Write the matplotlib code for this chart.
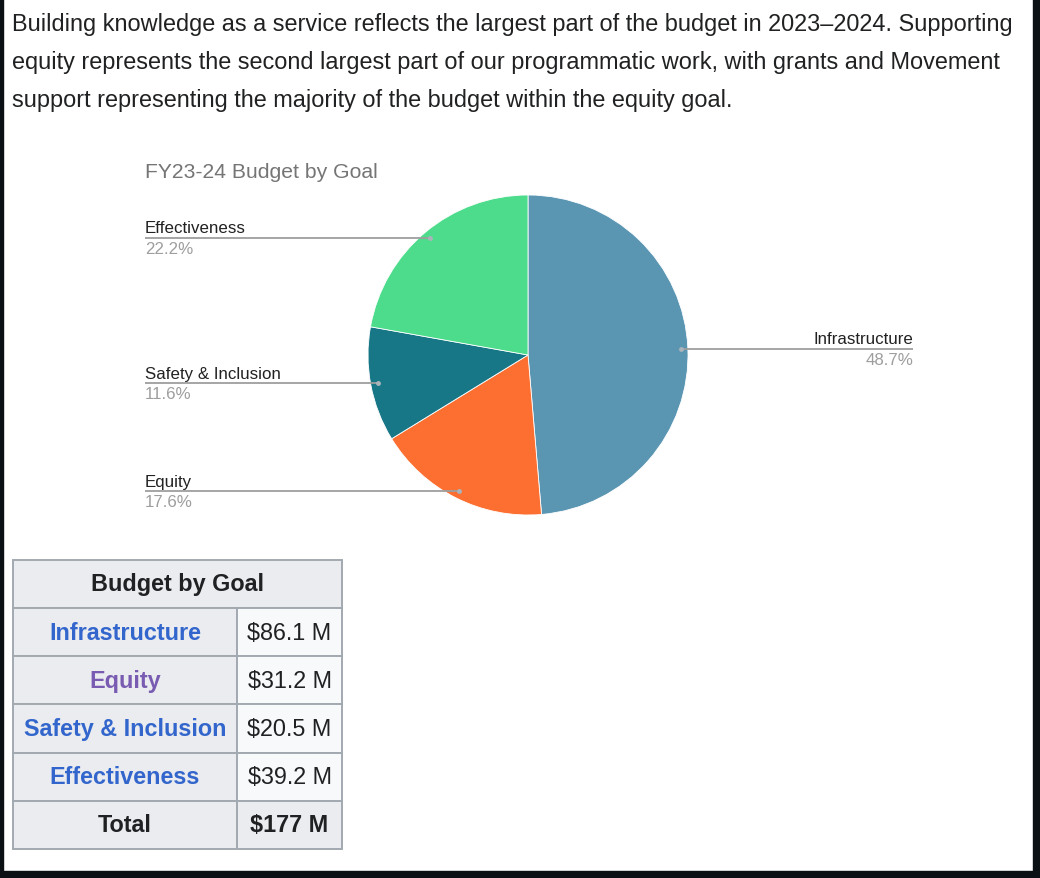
import matplotlib
matplotlib.use("Agg")
import matplotlib.pyplot as plt
from matplotlib.patches import Rectangle
import numpy as np

W, H = 1040, 879

# ---- data ----
paragraph = ["Building knowledge as a service reflects the largest part of the budget in 2023\u20132024. Supporting",
             "equity represents the second largest part of our programmatic work, with grants and Movement",
             "support representing the majority of the budget within the equity goal."]
chart_title = "FY23-24 Budget by Goal"
goals = ["Infrastructure", "Equity", "Safety & Inclusion", "Effectiveness"]
shares = [48.7, 17.6, 11.6, 22.2]
share_labels = ["48.7%", "17.6%", "11.6%", "22.2%"]
colors = ["#5a95b2", "#fd6f30", "#177786", "#4cdc8c"]
table_title = "Budget by Goal"
table_goals = ["Infrastructure", "Equity", "Safety & Inclusion", "Effectiveness"]
table_values = ["$86.1 M", "$31.2 M", "$20.5 M", "$39.2 M"]
total_label = "Total"
total_value = "$177 M"
goal_link_colors = ["#3366cc", "#795cb2", "#3366cc", "#3366cc"]

fig = plt.figure(figsize=(W / 100, H / 100), dpi=100)
fig.patch.set_facecolor("white")

# pie chart
cx, cy, R = 528, 356, 160
pax = fig.add_axes([(cx - R) / W, (H - cy - R) / H, 2 * R / W, 2 * R / H])
wedges, _ = pax.pie(shares, colors=colors, startangle=90, counterclock=False,
                    wedgeprops=dict(edgecolor="white", linewidth=0.6))
pax.set_xlim(-1, 1)
pax.set_ylim(-1, 1)
pax.set_aspect("equal")
pax.axis("off")

# overlay axes in pixel coordinates (on top)
ov = fig.add_axes([0, 0, 1, 1])
ov.set_xlim(0, W)
ov.set_ylim(H, 0)
ov.axis("off")
ov.patch.set_alpha(0)
ov.set_zorder(5)

# frame borders
ov.add_patch(Rectangle((0, 0), 2.5, H, color="#0b1014", zorder=10))
ov.add_patch(Rectangle((1033, 0), 7, H, color="#0b1014", zorder=10))
ov.add_patch(Rectangle((0, 872), W, 7, color="#0b1014", zorder=10))

# paragraph
for i, line in enumerate(paragraph):
    ov.text(12, 25 + i * 38, line, fontsize=16.9, family="Liberation Sans",
            color="#202122", va="center", ha="left")

ov.text(145, 172, chart_title, fontsize=15.2, family="Liberation Sans", color="#757575",
        va="center", ha="left")

fig.canvas.draw()
to_px = ov.transData.inverted()
lfs = 12.2
for w, name, lab in zip(wedges, goals, share_labels):
    mid = np.deg2rad((w.theta1 + w.theta2) / 2)
    px, py = to_px.transform(pax.transData.transform((0.955 * np.cos(mid), 0.955 * np.sin(mid))))
    if np.cos(mid) >= 0:
        x_end, ha = 913, "right"
    else:
        x_end, ha = 145, "left"
    ov.plot([min(px, x_end), max(px, x_end)], [py, py], color="#9e9e9e", lw=1.3,
            solid_capstyle="butt", zorder=5)
    ov.text(x_end, py - 2.5, name, fontsize=lfs, family="Liberation Sans", color="#222222",
            ha=ha, va="bottom")
    ov.text(x_end, py + 3, lab, fontsize=lfs, family="Liberation Sans", color="#9e9e9e",
            ha=ha, va="top")
    ov.plot([px], [py], "o", color="#aab4bb", ms=2.5, zorder=6)

# table
tx0, tx1, tx2 = 13, 237, 342
ty0, hdr_h, row_h = 561, 48, 48.2
border = "#a2a9b1"
fs = 16.8
ov.add_patch(Rectangle((tx0, ty0), tx2 - tx0, hdr_h, facecolor="#eaecf0",
                       edgecolor=border, lw=1.4, zorder=2))
ov.text((tx0 + tx2) / 2, ty0 + hdr_h / 2, table_title, fontsize=fs, weight="bold",
        family="Liberation Sans", color="#202122", ha="center", va="center", zorder=3)
rows = list(zip(table_goals, table_values, goal_link_colors)) + [(total_label, total_value, "#202122")]
for i, (g, v, c) in enumerate(rows):
    y = ty0 + hdr_h + i * row_h
    last = i == len(rows) - 1
    ov.add_patch(Rectangle((tx0, y), tx1 - tx0, row_h, facecolor="#eaecf0",
                           edgecolor=border, lw=1.4, zorder=2))
    ov.add_patch(Rectangle((tx1, y), tx2 - tx1, row_h,
                           facecolor="#eaecf0" if last else "#f8f9fa",
                           edgecolor=border, lw=1.4, zorder=2))
    ov.text((tx0 + tx1) / 2, y + row_h / 2, g, fontsize=fs, weight="bold",
            family="Liberation Sans", color=c, ha="center", va="center", zorder=3)
    ov.text((tx1 + tx2) / 2, y + row_h / 2, v, fontsize=fs,
            weight="bold" if last else "normal",
            family="Liberation Sans", color="#202122", ha="center", va="center", zorder=3)

fig.savefig("out.png", dpi=100, facecolor="white")
